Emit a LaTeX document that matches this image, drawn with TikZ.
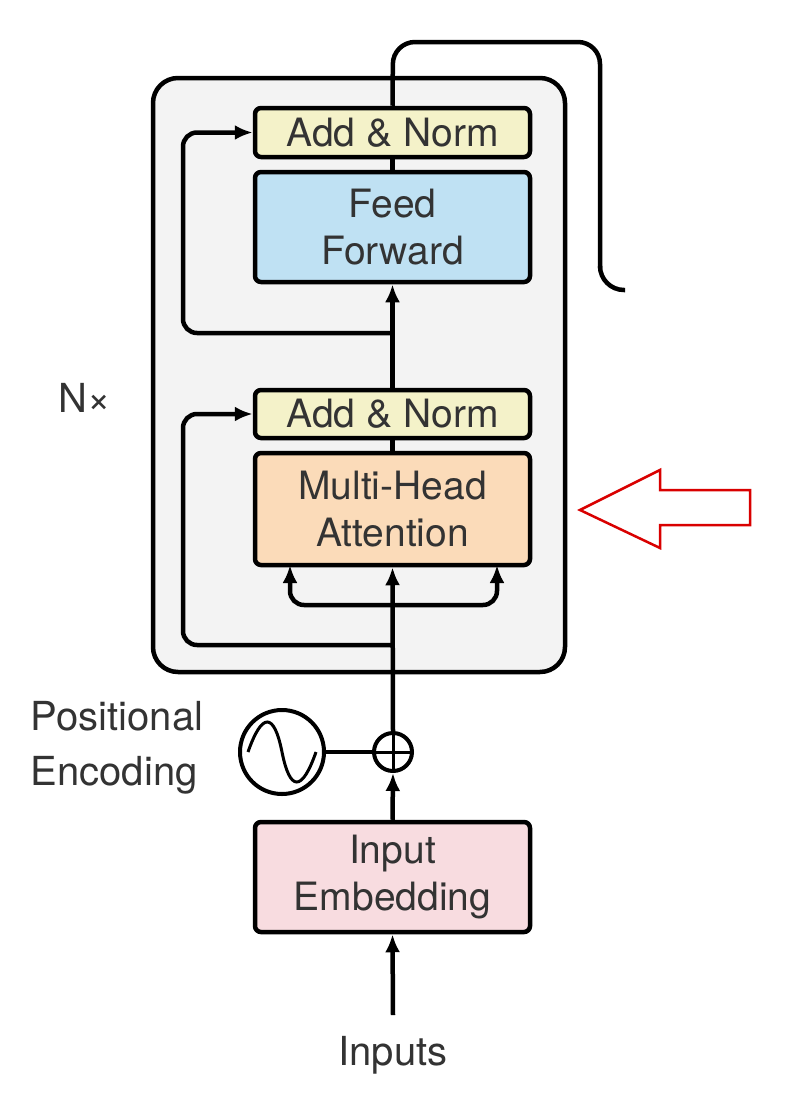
\documentclass[tikz,border=0pt]{standalone}
\usepackage{fontspec}
\setmainfont{TeX Gyre Heros}
\usetikzlibrary{arrows.meta}
\definecolor{boxgrey}{HTML}{F3F3F3}
\definecolor{normyel}{HTML}{F4F2C9}
\definecolor{ffblue}{HTML}{BFE1F3}
\definecolor{mhaor}{HTML}{FBDBB9}
\definecolor{embpink}{HTML}{F8DCE0}
\definecolor{txt}{HTML}{333333}
\tikzset{
  blk/.style={draw, line width=4.5pt, rounded corners=6pt, minimum width=275pt, text=txt, align=center, font=\fontsize{39}{47}\selectfont},
  lbl/.style={text=txt, align=left, font=\fontsize{40}{55}\selectfont},
  wire/.style={line width=4.5pt, rounded corners=14pt},
  arr/.style={wire, -{Latex[length=18pt,width=15pt]}}
}
\begin{document}
\begin{tikzpicture}[x=1pt,y=-1pt]
\useasboundingbox (0,0) rectangle (810,1106);
% encoder block
\draw[line width=4.5pt, fill=boxgrey, rounded corners=25pt] (153,78) rectangle (565,672);
\node[blk, fill=normyel, minimum height=49pt] (an2) at (392.5,132.5) {Add \& Norm};
\node[blk, fill=ffblue, minimum height=110pt] (ff) at (392.5,227) {Feed\\Forward};
\node[blk, fill=normyel, minimum height=48pt] (an1) at (392.5,414) {Add \& Norm};
\node[blk, fill=mhaor, minimum height=112pt] (mha) at (392.5,509) {Multi-Head\\Attention};
\node[blk, fill=embpink, minimum height=110pt] (emb) at (392.5,877) {Input\\Embedding};
\node[lbl] (nx) at (85,398) {N×};
\node[lbl] (pelbl) at (117,748) {Positional\\Encoding};
\node[lbl] (inp) at (393,1055) {Inputs};
% positional encoding
\node[draw, circle, line width=4pt, fill=white, minimum size=84pt] (pe) at (282,752) {};
\draw[line width=3pt] (248,752) .. controls (262,712) and (274,712) .. (282,752) .. controls (290,792) and (302,792) .. (316,752);
\node[draw, circle, line width=4pt, fill=white, minimum size=38pt, inner sep=0pt] (plus) at (393,752) {};
\draw[line width=3pt] (plus.north) -- (plus.south) (plus.west) -- (plus.east);
\draw[line width=4pt] (pe) -- (plus);
% main flow
\coordinate (inbot) at (393,1015);
\draw[arr] (inbot) -- (emb.south);
\draw[arr] (emb.north) -- (plus.south);
\draw[arr] (plus.north) -- (mha.south);
\coordinate (br) at (393,605);
\draw[arr] (br) -| (290,565);
\draw[arr] (br) -| (497,565);
\coordinate (res1) at (393,645);
\draw[arr] (res1) -| (183,414) -- (an1.west);
\draw[line width=4.5pt] (mha.north) -- (an1.south);
\draw[arr] (an1.north) -- (ff.south);
\coordinate (res2) at (393,333);
\draw[arr] (res2) -| (183,132.5) -- (an2.west);
\draw[line width=4.5pt] (ff.north) -- (an2.south);
\coordinate (out) at (625,290);
\draw[line width=4.5pt, rounded corners=22pt] (an2.north) -- (393,42) -- (600,42) -- (600,268);
\draw[line width=4.5pt] (600,266) arc[start angle=180, end angle=270, radius=24pt] -- (out);
% red arrow
\draw[red!85!black, line width=2.5pt, line join=miter] (580,510) -- (660,470) -- (660,490) -- (750,490) -- (750,525) -- (660,525) -- (660,548) -- cycle;
\end{tikzpicture}
\end{document}
